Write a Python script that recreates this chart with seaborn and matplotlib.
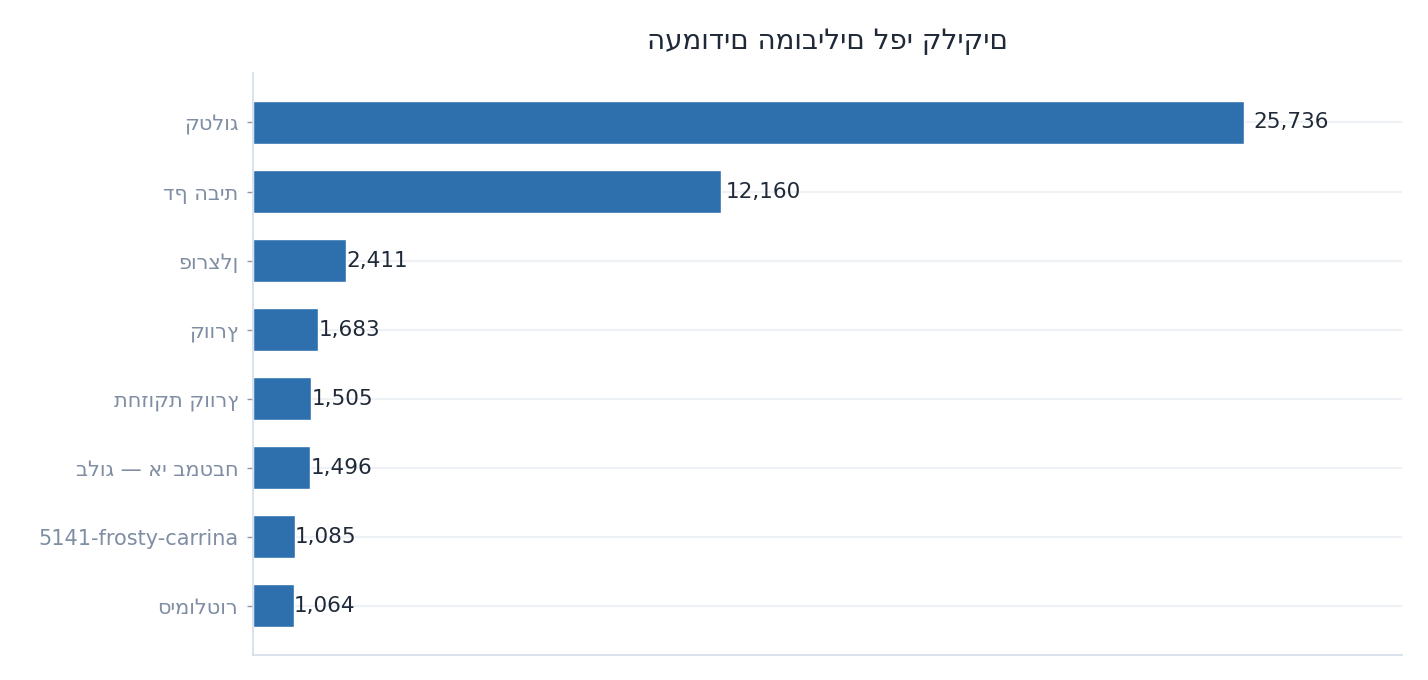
import matplotlib
matplotlib.use("Agg")
import matplotlib.pyplot as plt
import seaborn as sns
import pandas as pd

# Data
pages = ["קטלוג", "דף הבית", "פורצלן", "קוורץ", "תחזוקת קוורץ",
         "בלוג — אי במטבח", "5141-frosty-carrina", "סימולטור"]
clicks = [25736, 12160, 2411, 1683, 1505, 1496, 1085, 1064]
title = "העמודים המובילים לפי קליקים"

df = pd.DataFrame({"page": pages, "clicks": clicks})

sns.set_theme(style="white")
plt.rcParams['font.family'] = ['DejaVu Sans']

fig, ax = plt.subplots(figsize=(14.28, 6.8), dpi=100)
fig.subplots_adjust(left=0.177, right=0.982, top=0.893, bottom=0.037)

sns.barplot(data=df, x="clicks", y="page", color="#2e6fad", width=0.62,
            saturation=1, ax=ax, zorder=2)

# Labels right of each bar
for i, v in enumerate(clicks):
    ax.text(v * 1.01, i, "{:,}".format(v), va="center", ha="left",
            fontsize=15.5, color="#1f2937", zorder=3)

ax.set_xlim(0, max(clicks) * 1.16)
ax.set_ylim(7.71, -0.72)
ax.set_xlabel("")
ax.set_ylabel("")
ax.set_xticks([])
ax.set_title(title, fontsize=20, color="#1f2937", pad=17)

ax.grid(axis="y", color="#eef2f6", linewidth=1.5, zorder=0)
ax.tick_params(axis="y", left=True, length=4.5, width=1, color="#8a98ab",
               labelsize=15, labelcolor="#7f8ea3", pad=6)

for side in ["top", "right"]:
    ax.spines[side].set_visible(False)
for side in ["left", "bottom"]:
    ax.spines[side].set_color("#d3dde9")
    ax.spines[side].set_linewidth(1.2)

fig.savefig("out.png", dpi=100)
